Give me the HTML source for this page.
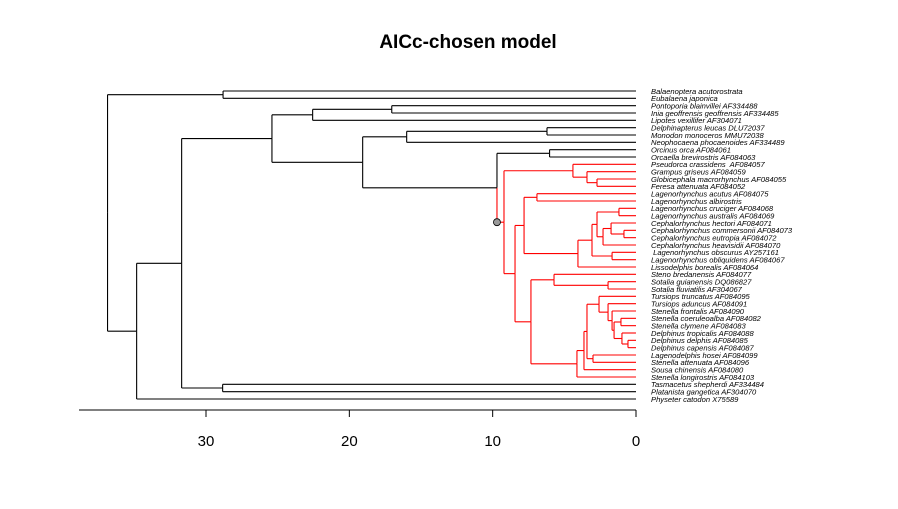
<!DOCTYPE html>
<html><head><meta charset="utf-8"><style>
html,body{margin:0;padding:0;background:#fff;}
svg{display:block;font-family:"Liberation Sans",sans-serif;}
</style></head><body>
<svg id="chart" width="898" height="509" viewBox="0 0 898 509" xmlns="http://www.w3.org/2000/svg">
<text x="468" y="48" text-anchor="middle" font-size="19" font-weight="bold">AICc-chosen model</text>
<g id="tree"></g>
<g id="axis"></g>
</svg>
<script>
const tipNames = ["Balaenoptera acutorostrata","Eubalaena japonica","Pontoporia blainvillei AF334488","Inia geoffrensis geoffrensis AF334485","Lipotes vexillifer AF304071","Delphinapterus leucas DLU72037","Monodon monoceros MMU72038","Neophocaena phocaenoides AF334489","Orcinus orca AF084061","Orcaella brevirostris AF084063","Pseudorca crassidens  AF084057","Grampus griseus AF084059","Globicephala macrorhynchus AF084055","Feresa attenuata AF084052","Lagenorhynchus acutus AF084075","Lagenorhynchus albirostris","Lagenorhynchus cruciger AF084068","Lagenorhynchus australis AF084069","Cephalorhynchus hectori AF084071","Cephalorhynchus commersonii AF084073","Cephalorhynchus eutropia AF084072","Cephalorhynchus heavisidii AF084070"," Lagenorhynchus obscurus AY257161","Lagenorhynchus obliquidens AF084067","Lissodelphis borealis AF084064","Steno bredanensis AF084077","Sotalia guianensis DQ086827","Sotalia fluviatilis AF304067","Tursiops truncatus AF084095","Tursiops aduncus AF084091","Stenella frontalis AF084090","Stenella coeruleoalba AF084082","Stenella clymene AF084083","Delphinus tropicalis AF084088","Delphinus delphis AF084085","Delphinus capensis AF084087","Lagenodelphis hosei AF084099","Stenella attenuata AF084096","Sousa chinensis AF084080","Stenella longirostris AF084103","Tasmacetus shepherdi AF334484","Platanista gangetica AF304070","Physeter catodon X75589"];
const axisTicks = [0,10,20,30];
const redSubtree = {red:[9.21,
  [4.40,10,[3.42,11,[2.72,12,13]]],
  [8.44,
    [7.81,[6.91,14,15],
      [4.05,[3.07,[2.72,[1.19,16,17],[2.30,[1.74,18,[0.84,19,20]],21]],[1.67,22,23]],24]],
    [7.33,[5.72,25,[1.95,26,27]],
      [4.12,[3.63,[3.42,[2.58,28,[1.95,29,[1.67,30,[1.53,[1.05,31,32],[0.98,33,[0.56,34,35]]]]]],[3.00,36,37]],38],39]]]]};
const tree = [36.87,
  [28.81,0,1],
  [34.84,
    [31.70,
      [25.40,
        [22.56,[17.04,2,3],4],
        [19.07,
          [16.00,[6.21,5,6],7],
          [9.70,[6.03,8,9],redSubtree]]],
      [28.84,40,41]],
    42]];

const NS="http://www.w3.org/2000/svg";
const X0=636, PX=14.333, Y0=91, DY=(399-91)/42;
const xs=t=>X0-t*PX;
const ys=i=>Y0+i*DY;
const g=document.getElementById('tree');
function line(x1,y1,x2,y2,c,name){
  const l=document.createElementNS(NS,'line');
  l.setAttribute('x1',x1);l.setAttribute('y1',y1);l.setAttribute('x2',x2);l.setAttribute('y2',y2);
  l.setAttribute('stroke',c);l.setAttribute('stroke-width','1.1');
  
  
  g.appendChild(l);
}
let circlePos=null;
// returns {x,y,red}
function draw(node,red){
  if(node&&node.red){return draw(node.red,true);}
  if(typeof node==='number'){
    const y=ys(node);
    const t=document.createElementNS(NS,'text');
    t.setAttribute('x',651);t.setAttribute('y',y+2.8);
    t.setAttribute('font-size','7.6');t.setAttribute('font-style','italic');
    t.setAttribute('xml:space','preserve');t.style.whiteSpace='pre';
    t.textContent=tipNames[node];
    
    
    g.appendChild(t);
    return {x:xs(0),y:y,red:red};
  }
  const x=xs(node[0]);
  const kids=node.slice(1).map(c=>draw(c,red));
  const y=(kids[0].y+kids[kids.length-1].y)/2;
  kids.forEach(k=>{
    const c=k.red?'#ff0000':'#000';
    line(x,y,x,k.y,c,'branch-vertical');
    line(x,k.y,k.x,k.y,c,'branch');
    if(k.red&&!red){circlePos=[x,k.y];}
  });
  return {x:x,y:y,red:red};
}
const root=draw(tree,false);
if(circlePos){
  const c=document.createElementNS(NS,'circle');
  c.setAttribute('cx',circlePos[0]);c.setAttribute('cy',circlePos[1]);c.setAttribute('r',3.5);
  c.setAttribute('fill','#999');c.setAttribute('stroke','#000');c.setAttribute('stroke-width','0.8');
  
  
  g.appendChild(c);
}
const ax=document.getElementById('axis');
const al=document.createElementNS(NS,'line');
al.setAttribute('x1',79);al.setAttribute('x2',636);al.setAttribute('y1',410);al.setAttribute('y2',410);
al.setAttribute('stroke','#000');


ax.appendChild(al);
axisTicks.forEach(v=>{
  const x=xs(v);
  const tk=document.createElementNS(NS,'line');
  tk.setAttribute('x1',x);tk.setAttribute('x2',x);tk.setAttribute('y1',410);tk.setAttribute('y2',417);
  tk.setAttribute('stroke','#000');
  
  
  ax.appendChild(tk);
  const t=document.createElementNS(NS,'text');
  t.setAttribute('x',x);t.setAttribute('y',446);t.setAttribute('text-anchor','middle');
  t.setAttribute('font-size','15');
  t.textContent=v;
  
  
  ax.appendChild(t);
});
</script>
</body></html>
